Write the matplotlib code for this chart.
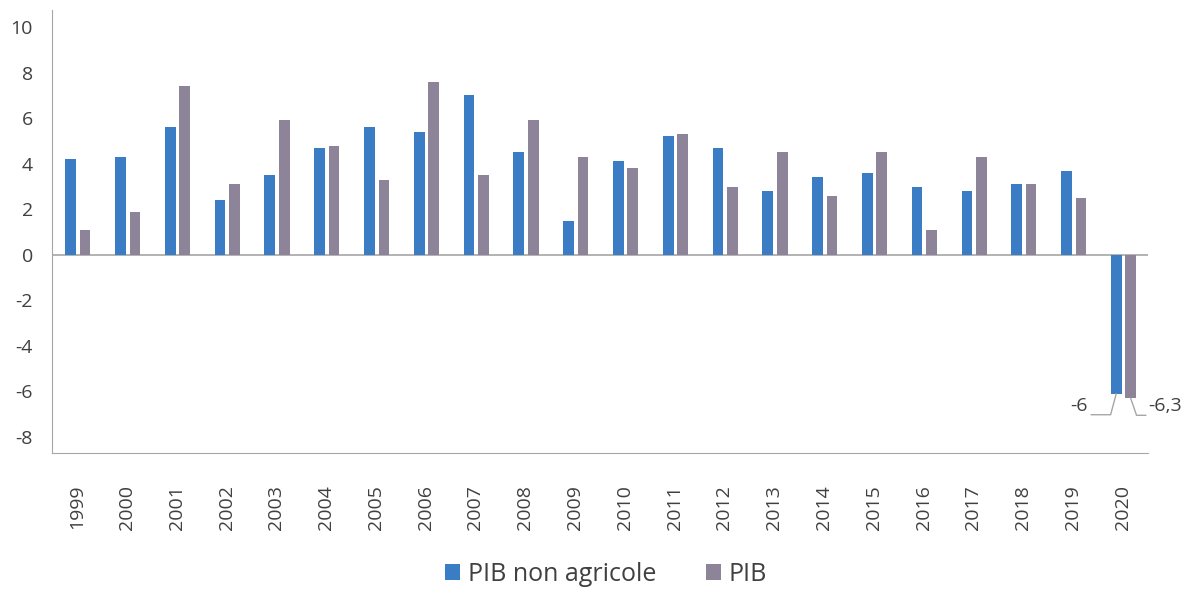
import matplotlib.pyplot as plt
import numpy as np

years = [str(y) for y in range(1999, 2021)]
pib_non_agricole = [4.2, 4.3, 5.6, 2.4, 3.5, 4.7, 5.6, 5.4, 7.0, 4.5, 1.5,
                    4.1, 5.2, 4.7, 2.8, 3.4, 3.6, 3.0, 2.8, 3.1, 3.7, -6.1]
pib = [1.1, 1.9, 7.4, 3.1, 5.9, 4.8, 3.3, 7.6, 3.5, 5.9, 4.3,
       3.8, 5.3, 3.0, 4.5, 2.6, 4.5, 1.1, 4.3, 3.1, 2.5, -6.3]
labels_2020 = ["-6", "-6,3"]

plt.rcParams['font.family'] = ['Open Sans', 'DejaVu Sans']
plt.rcParams['axes.unicode_minus'] = False
text_col = "#404040"
line_col = "#A6A6A6"
blue = "#3A7DC4"
grey = "#8E8499"

fig = plt.figure(figsize=(11.88, 5.89), dpi=100)
ax = fig.add_axes([0.044, 0.231, 0.922, 0.752])

x = np.arange(len(years))
w = 0.215
ax.bar(x - 0.13, pib_non_agricole, w, color=blue, label="PIB non agricole")
ax.bar(x + 0.16, pib, w, color=grey, label="PIB")

ax.set_xlim(-0.5, len(years) - 0.5)
ax.set_ylim(-8.7, 10.75)
ax.set_yticks(range(-8, 11, 2))
ax.set_xticks(x)
ax.set_xticklabels(years, rotation=90)
ax.tick_params(axis='both', length=0, labelsize=14, colors=text_col)
ax.tick_params(axis='y', pad=14)
ax.tick_params(axis='x', pad=23)

for s in ['top', 'right']:
    ax.spines[s].set_visible(False)
for s in ['left', 'bottom']:
    ax.spines[s].set_color(line_col)
ax.axhline(0, color=line_col, lw=1.2, zorder=0)

# data labels for 2020 with leader lines
i = len(years) - 1
ax.annotate(labels_2020[0], xy=(x[i] - 0.13, pib_non_agricole[i]),
            xytext=(-28, -12), textcoords='offset pixels', ha='right', va='center',
            fontsize=14, color=text_col,
            arrowprops=dict(arrowstyle='-', color=line_col, lw=1, relpos=(1, 0),
                            shrinkA=0, shrinkB=0,
                            connectionstyle='angle,angleA=0,angleB=75,rad=0'))
ax.annotate(labels_2020[1], xy=(x[i] + 0.16, pib[i]),
            xytext=(18, -8), textcoords='offset pixels', ha='left', va='center',
            fontsize=14, color=text_col,
            arrowprops=dict(arrowstyle='-', color=line_col, lw=1, relpos=(0, 0),
                            shrinkA=0, shrinkB=0,
                            connectionstyle='angle,angleA=0,angleB=109,rad=0'))

leg = fig.legend(loc='lower center', bbox_to_anchor=(0.51, -0.035), ncol=2, frameon=False,
                 fontsize=18, handlelength=0.6, handleheight=0.6, handletextpad=0.3,
                 columnspacing=2.0, labelcolor=text_col)

fig.savefig("out.png", dpi=100)
